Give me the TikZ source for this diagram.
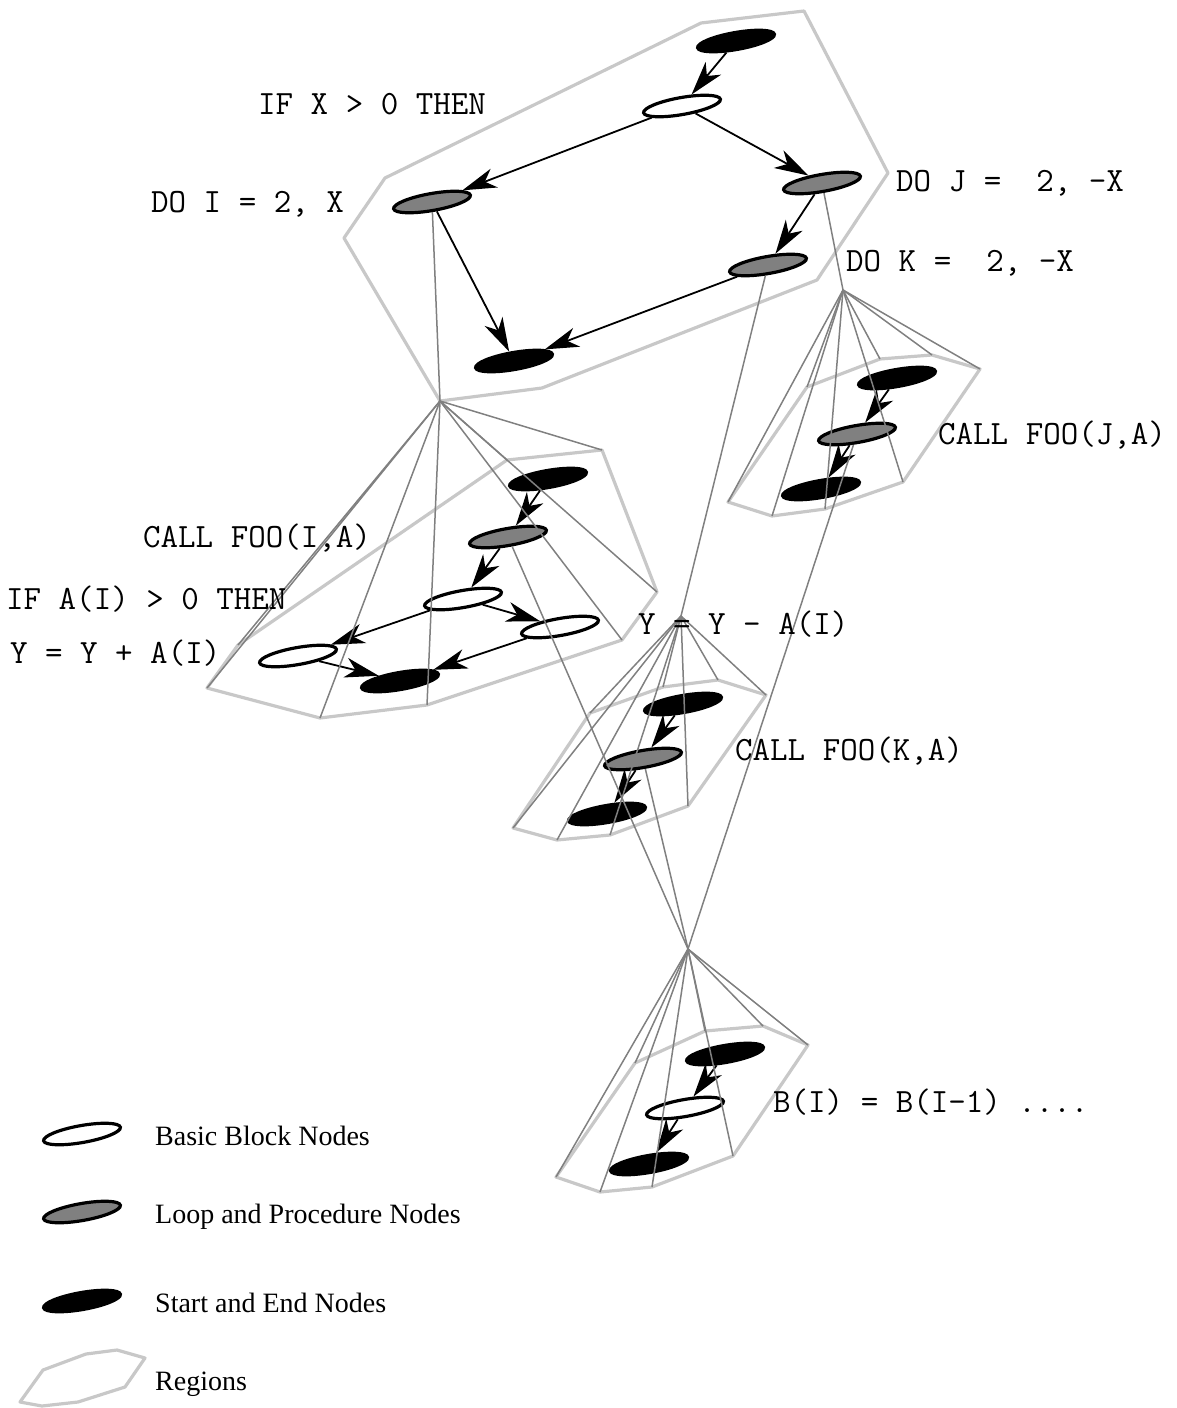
\documentclass[tikz,border=0pt]{standalone}
\usepackage{fontspec}
\setmainfont{Liberation Serif}
\usetikzlibrary{arrows.meta,shapes.geometric}
\definecolor{regc}{HTML}{C8C8C8}
\definecolor{fanc}{HTML}{808080}
\definecolor{loopc}{HTML}{808080}
\tikzset{
  blob/.style={ellipse, minimum width=78pt, minimum height=17pt, inner sep=0pt, rotate=10, line width=3.2pt, draw=black},
  bbnode/.style={blob, fill=white},
  lpnode/.style={blob, fill=loopc},
  senode/.style={blob, fill=black},
  tipstyle/.tip={Stealth[length=34pt,width=20pt,inset=10pt]},
  flow/.style={line width=1.8pt, -tipstyle},
  region/.style={draw=regc, line width=3.2pt, line join=round},
  fan/.style={draw=fanc, line width=1.5pt},
  code/.style={font=\ttfamily\fontsize{34}{38}\selectfont, anchor=base west, inner sep=0pt},
  legtxt/.style={font=\fontsize{28}{32}\selectfont, anchor=base west, inner sep=0pt},
}
\begin{document}
\begin{tikzpicture}[x=1pt,y=-1pt]
\useasboundingbox (0,0) rectangle (1176,1408);

% ---------- nodes ----------
% top region
\node[senode] (t1)   at (736,41)  {};
\node[bbnode] (tif)  at (682,106) {};
\node[lpnode] (tdoi) at (432,202) {};
\node[lpnode] (tdoj) at (822,183) {};
\node[lpnode] (tdok) at (768,265) {};
\node[senode] (tend) at (514,361) {};
% region 2
\node[senode] (s2)  at (548,479) {};
\node[lpnode] (c2)  at (508,537) {};
\node[bbnode] (if2) at (463,599) {};
\node[bbnode] (r2)  at (560,627) {};
\node[bbnode] (l2)  at (298,656) {};
\node[senode] (e2)  at (400,681) {};
% region 3
\node[senode] (s3) at (897,378) {};
\node[lpnode] (c3) at (857,434) {};
\node[senode] (e3) at (821,489) {};
% region 4
\node[senode] (s4) at (683,704) {};
\node[lpnode] (c4) at (643,759) {};
\node[senode] (e4) at (607,814) {};
% region 5
\node[senode] (s5) at (725,1054) {};
\node[bbnode] (b5) at (685,1108) {};
\node[senode] (e5) at (649,1164) {};
% legend
\node[bbnode] (lw) at (82,1134) {};
\node[lpnode] (lg) at (82,1212) {};
\node[senode] (lb) at (82,1301) {};

% ---------- flow arrows ----------
\draw[flow] (t1) -- (tif);
\draw[flow] (tif) -- (tdoi);
\draw[flow] (tif) -- (tdoj);
\draw[flow] (tdoj) -- (tdok);
\draw[flow] (tdoi) -- (tend);
\draw[flow] (tdok) -- (tend);
\draw[flow] (s2) -- (c2);
\draw[flow] (c2) -- (if2);
\draw[flow] (if2) -- (r2);
\draw[flow] (if2) -- (l2);
\draw[flow] (l2) -- (e2);
\draw[flow] (r2) -- (e2);
\draw[flow] (s3) -- (c3);
\draw[flow] (c3) -- (e3);
\draw[flow] (s4) -- (c4);
\draw[flow] (c4) -- (e4);
\draw[flow] (s5) -- (b5);
\draw[flow] (b5) -- (e5);

% ---------- region coordinates ----------
\coordinate (A1) at (440,401);
\coordinate (A2) at (843,290);
\coordinate (A3) at (681,616);
\coordinate (A4) at (688,949);

\coordinate (p0a) at (701,23);
\coordinate (p0b) at (804,11);
\coordinate (p0c) at (888,173);
\coordinate (p0d) at (817,280);
\coordinate (p0e) at (542,388);
\coordinate (p0g) at (344,238);
\coordinate (p0h) at (385,178);

\coordinate (p1a) at (207,688);
\coordinate (p1b) at (320,718);
\coordinate (p1c) at (427,705);
\coordinate (p1d) at (622,640);
\coordinate (p1e) at (657,592);
\coordinate (p1f) at (602,450);
\coordinate (p1g) at (507,460);
\coordinate (p1h) at (238,645);

\coordinate (p2a) at (728,502);
\coordinate (p2b) at (772,516);
\coordinate (p2c) at (825,509);
\coordinate (p2d) at (903,482);
\coordinate (p2e) at (980,369);
\coordinate (p2f) at (932,355);
\coordinate (p2g) at (880,359);
\coordinate (p2h) at (807,387);

\coordinate (p3a) at (513,828);
\coordinate (p3b) at (557,840);
\coordinate (p3c) at (610,835);
\coordinate (p3d) at (688,806);
\coordinate (p3e) at (766,695);
\coordinate (p3f) at (718,680);
\coordinate (p3g) at (663,687);
\coordinate (p3h) at (590,713);

\coordinate (p4a) at (556,1177);
\coordinate (p4b) at (600,1192);
\coordinate (p4c) at (652,1187);
\coordinate (p4d) at (733,1156);
\coordinate (p4e) at (808,1045);
\coordinate (p4f) at (763,1026);
\coordinate (p4g) at (705,1031);
\coordinate (p4h) at (635,1063);

% ---------- regions ----------
\draw[region] (p0a) -- (p0b) -- (p0c) -- (p0d) -- (p0e) -- (A1) -- (p0g) -- (p0h) -- cycle;
\draw[region] (p1a) -- (p1b) -- (p1c) -- (p1d) -- (p1e) -- (p1f) -- (p1g) -- (p1h) -- cycle;
\draw[region] (p2a) -- (p2b) -- (p2c) -- (p2d) -- (p2e) -- (p2f) -- (p2g) -- (p2h) -- cycle;
\draw[region] (p3a) -- (p3b) -- (p3c) -- (p3d) -- (p3e) -- (p3f) -- (p3g) -- (p3h) -- cycle;
\draw[region] (p4a) -- (p4b) -- (p4c) -- (p4d) -- (p4e) -- (p4f) -- (p4g) -- (p4h) -- cycle;

% ---------- hierarchy lines ----------
\foreach \v in {a,b,c,d,e,f,g,h} {
  \draw[fan] (A1) -- (p1\v);
  \draw[fan] (A2) -- (p2\v);
  \draw[fan] (A3) -- (p3\v);
  \draw[fan] (A4) -- (p4\v);
}
\draw[fan] (tdoi) -- (A1);
\draw[fan] (tdoj) -- (A2);
\draw[fan] (tdok) -- (A3);
\draw[fan] (c2) -- (A4);
\draw[fan] (c3) -- (A4);
\draw[fan] (c4) -- (A4);

% ---------- code labels ----------
\node[code] (lab1) at (258,114) {IF X > 0 THEN};
\node[code] (lab2) at (151,212) {DO I = 2, X};
\node[code] (lab3) at (896,191) {DO J =\ \ 2, -X};
\node[code] (lab4) at (846,271) {DO K =\ \ 2, -X};
\node[code] (lab5) at (143,547) {CALL FOO(I,A)};
\node[code] (lab6) at (6,609)   {IF A(I) > 0 THEN};
\node[code] (lab7) at (10,663)  {Y = Y + A(I)};
\node[code] (lab8) at (638,634) {Y = Y - A(I)};
\node[code] (lab9) at (938,444) {CALL FOO(J,A)};
\node[code] (lab10) at (735,760) {CALL FOO(K,A)};
\node[code] (lab11) at (773,1112) {B(I) = B(I-1) ....};

% ---------- legend ----------
\node[legtxt] (lt1) at (155,1145) {Basic Block Nodes};
\node[legtxt] (lt2) at (155,1223) {Loop and Procedure Nodes};
\node[legtxt] (lt3) at (155,1312) {Start and End Nodes};
\node[legtxt] (lt4) at (155,1390) {Regions};
\draw[region] (20,1402) -- (43,1370) -- (86,1354) -- (117,1350) -- (145,1358) -- (125,1387) -- (78,1402) -- (42,1406) -- cycle;
\end{tikzpicture}
\end{document}
